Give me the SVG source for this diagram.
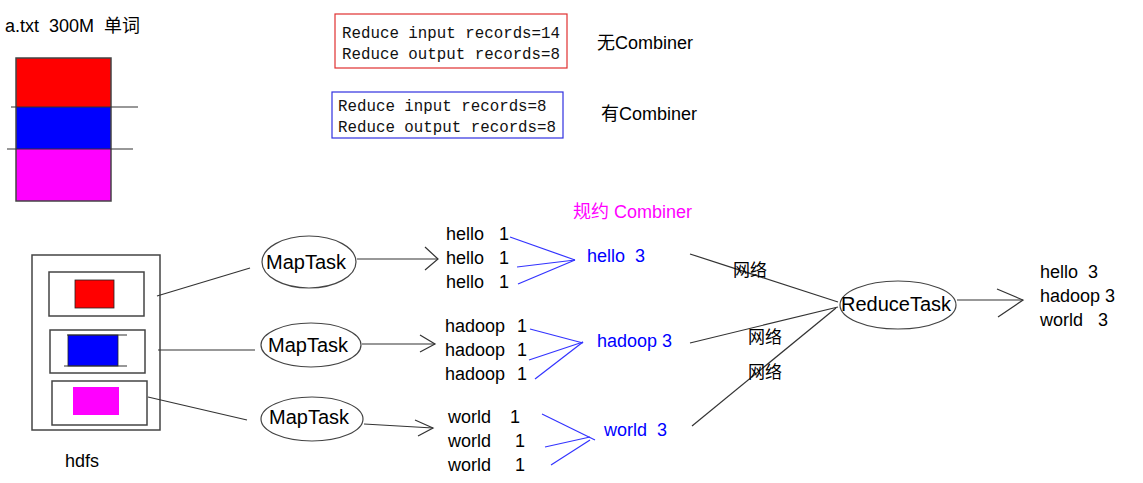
<svg xmlns="http://www.w3.org/2000/svg" width="1143" height="483" viewBox="0 0 1143 483">
<style>
.t{font-family:"Liberation Sans","Noto Sans CJK SC",Arial,sans-serif;font-size:18px;fill:#000;white-space:pre}
.e{font-size:20px}
.n{font-size:17px}
.m{font-family:"Liberation Mono","DejaVu Sans Mono",monospace;font-size:15.8px;fill:#111;white-space:pre}
.b{fill:#0000ff}
.p{fill:#ff00ff}
.ln{stroke:#333;stroke-width:1.2;fill:none}
.bl{stroke:#3333ff;stroke-width:1.2;fill:none}
.el{fill:#fff;stroke:#444;stroke-width:1.2}
.bx{fill:none;stroke:#444;stroke-width:1.5}
</style>
<rect width="1143" height="483" fill="#fff"/>
<g id="file">
<text class="t" x="5" y="32" xml:space="preserve">a.txt  300M  单词</text>
<rect x="16" y="58" width="95" height="49" fill="#ff0000"/>
<rect x="16" y="107" width="95" height="42" fill="#0000ff"/>
<rect x="16" y="149" width="95" height="52" fill="#ff00ff"/>
<rect x="16" y="58" width="95" height="143" class="bx" stroke-width="1"/>
<line x1="11" y1="107" x2="138" y2="107" class="ln"/>
<line x1="7" y1="149" x2="133" y2="149" class="ln"/>
</g>
<g id="noCombiner">
<rect x="335" y="14" width="232" height="54" fill="none" stroke="#e03030" stroke-width="1.2"/>
<text class="m" x="342" y="38">Reduce input records=14</text>
<text class="m" x="342" y="59">Reduce output records=8</text>
<text class="t" x="597" y="49">无Combiner</text>
</g>
<g id="withCombiner">
<rect x="332" y="92" width="231" height="46" fill="none" stroke="#3030e0" stroke-width="1.2"/>
<text class="m" x="338" y="111">Reduce input records=8</text>
<text class="m" x="338" y="132">Reduce output records=8</text>
<text class="t" x="601" y="120">有Combiner</text>
</g>
<g id="hdfs">
<rect x="32" y="255" width="128" height="175" class="bx"/>
<rect x="49" y="272" width="95" height="44" class="bx"/>
<rect x="75" y="280" width="39" height="28" fill="#ff0000" stroke="#222" stroke-width="0.8"/>
<rect x="50" y="330" width="95" height="43" class="bx"/>
<rect x="68" y="335" width="50" height="31" fill="#0000ff" stroke="#222" stroke-width="0.8"/>
<line x1="67" y1="335" x2="127" y2="335" class="ln"/>
<line x1="64" y1="366" x2="127" y2="366" class="ln"/>
<rect x="52" y="381" width="95" height="44" class="bx"/>
<rect x="73" y="387" width="46" height="28" fill="#ff00ff"/>
<text class="t" x="65" y="467">hdfs</text>
</g>
<g id="connectors">
<line x1="157" y1="296" x2="250" y2="268" class="ln"/>
<line x1="158" y1="350" x2="255" y2="350" class="ln"/>
<line x1="148" y1="397" x2="247" y2="420" class="ln"/>
<line x1="357" y1="259" x2="438" y2="259" class="ln"/>
<polyline points="425,247 438,259 425,270" class="ln"/>
<line x1="362" y1="344" x2="435" y2="344" class="ln"/>
<polyline points="420,335 435,344 420,352" class="ln"/>
<line x1="364" y1="424" x2="433" y2="428" class="ln"/>
<polyline points="415,420 433,428 418,436" class="ln"/>
<line x1="510" y1="237" x2="575" y2="260" class="bl"/>
<line x1="517" y1="267" x2="575" y2="260" class="bl"/>
<line x1="518" y1="284" x2="575" y2="260" class="bl"/>
<line x1="530" y1="329" x2="583" y2="343" class="bl"/>
<line x1="529" y1="360" x2="583" y2="342" class="bl"/>
<line x1="535" y1="379" x2="583" y2="342" class="bl"/>
<line x1="542" y1="414" x2="595" y2="440" class="bl"/>
<line x1="545" y1="447" x2="590" y2="437" class="bl"/>
<line x1="551" y1="465" x2="590" y2="440" class="bl"/>
<line x1="690" y1="254" x2="838" y2="302" class="ln"/>
<line x1="690" y1="343" x2="838" y2="307" class="ln"/>
<line x1="692" y1="426" x2="836" y2="308" class="ln"/>
<line x1="957" y1="300" x2="1023" y2="300" class="ln"/>
<polyline points="997,289 1023,300 998,317" class="ln"/>
<text class="t n" x="733" y="276">网络</text>
<text class="t n" x="748" y="343">网络</text>
<text class="t n" x="748" y="378">网络</text>
</g>
<g id="map1">
<ellipse cx="309" cy="262" rx="47" ry="26" class="el"/>
<text class="t e" x="306" y="269" text-anchor="middle">MapTask</text>
</g>
<g id="map2">
<ellipse cx="311" cy="345" rx="50" ry="22" class="el"/>
<text class="t e" x="308" y="352" text-anchor="middle">MapTask</text>
</g>
<g id="map3">
<ellipse cx="312" cy="419" rx="51" ry="22" class="el"/>
<text class="t e" x="309" y="424" text-anchor="middle">MapTask</text>
</g>
<g id="hello">
<text class="t" x="446" y="240">hello</text><text class="t" x="499" y="240">1</text>
<text class="t" x="446" y="264">hello</text><text class="t" x="499" y="264">1</text>
<text class="t" x="446" y="288">hello</text><text class="t" x="499" y="288">1</text>
</g>
<g id="hadoop">
<text class="t" x="445" y="332">hadoop</text><text class="t" x="517" y="332">1</text>
<text class="t" x="445" y="356">hadoop</text><text class="t" x="517" y="356">1</text>
<text class="t" x="445" y="380">hadoop</text><text class="t" x="517" y="380">1</text>
</g>
<g id="world">
<text class="t" x="448" y="423">world</text><text class="t" x="510" y="423">1</text>
<text class="t" x="448" y="447">world</text><text class="t" x="515" y="447">1</text>
<text class="t" x="448" y="471">world</text><text class="t" x="515" y="471">1</text>
</g>
<g id="combiner">
<text class="t p" x="573" y="218" xml:space="preserve">规约 Combiner</text>
<text class="t b" x="587" y="262" xml:space="preserve">hello  3</text>
<text class="t b" x="597" y="347" xml:space="preserve">hadoop 3</text>
<text class="t b" x="604" y="436" xml:space="preserve">world  3</text>
</g>
<g id="reduce">
<ellipse cx="898" cy="305" rx="58" ry="24" class="el"/>
<text class="t e" x="896" y="311" text-anchor="middle">ReduceTask</text>
</g>
<g id="output">
<text class="t" x="1040" y="278" xml:space="preserve">hello  3</text>
<text class="t" x="1040" y="302" xml:space="preserve">hadoop 3</text>
<text class="t" x="1040" y="326" xml:space="preserve">world   3</text>
</g>
</svg>
